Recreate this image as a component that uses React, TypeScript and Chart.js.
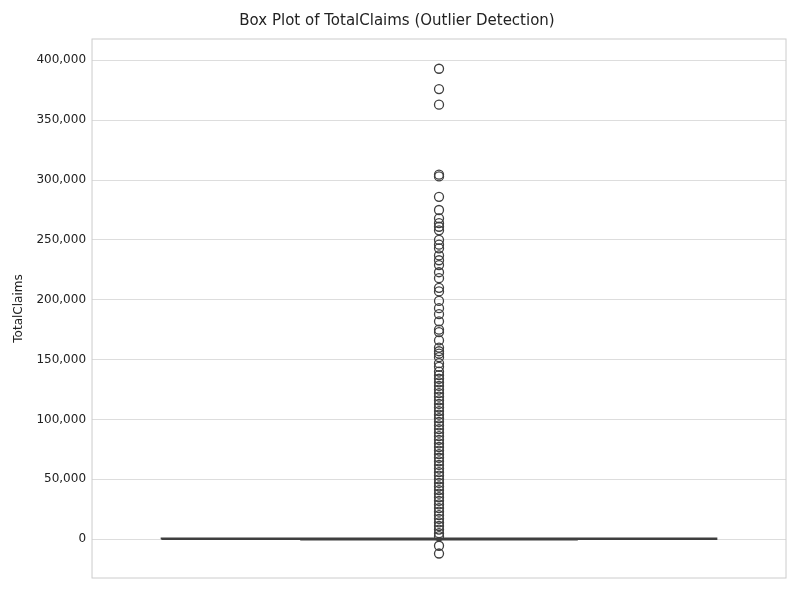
import React, { useRef, useEffect } from 'react';
import { Chart, registerables } from 'chart.js';

Chart.register(...registerables);

const yTicks = [0, 50000, 100000, 150000, 200000, 250000, 300000, 350000, 400000];
const boxStats = { q1: 0, median: 0, q3: 800 };
const outliers = [
  393000, 376000, 363000, 304500, 303000, 286000, 275000, 268000, 264000, 261000, 258000,
  250000, 246000, 243000, 237000, 233000, 229000, 223000, 218000, 210000, 207000, 199000,
  193000, 188000, 182000, 175000, 173000, 166000, 160000, 157000, 155000, 152000, 147000,
  144000, 140000, 137000, 134000, 131000, 128000, 125000, 122000, 119000, 116000, 113000,
  110000, 107000, 104000, 101000, 98000, 95000, 92000, 89000, 86000, 83000, 80000, 77000,
  74000, 71000, 68000, 65000, 62000, 59000, 56000, 53000, 50000, 47000, 44000, 41000,
  38000, 35000, 32000, 29000, 26000, 23000, 20000, 17000, 14000, 11000, 8000, 5000, 2500,
  -5500, -12000,
];

const frame = {
  id: 'frame',
  afterDraw(chart: Chart) {
    const { ctx, chartArea: a } = chart;
    ctx.save();
    ctx.strokeStyle = '#cccccc';
    ctx.lineWidth = 1;
    ctx.strokeRect(a.left, a.top, a.right - a.left, a.bottom - a.top);
    ctx.restore();
  },
};

export default function App() {
  const ref = useRef<HTMLCanvasElement | null>(null);
  useEffect(() => {
    document.body.style.margin = '0';
    if (!ref.current) return;
    const edge = '#3f3f3f';
    const chart = new Chart(ref.current, {
      type: 'scatter',
      data: {
        datasets: [
          {
            type: 'line',
            data: [{ x: -0.4, y: boxStats.q1 }, { x: 0.4, y: boxStats.q1 }, { x: 0.4, y: boxStats.q3 }, { x: -0.4, y: boxStats.q3 }, { x: -0.4, y: boxStats.q1 }],
            borderColor: edge,
            backgroundColor: 'rgba(0,0,0,0)',
            borderWidth: 1.5,
            pointRadius: 0,
          },
          {
            type: 'line',
            data: [{ x: -0.2, y: boxStats.median }, { x: 0.2, y: boxStats.median }],
            borderColor: edge,
            borderWidth: 2.5,
            pointRadius: 0,
          },
          {
            data: outliers.map((y) => ({ x: 0, y })),
            pointRadius: 4.5,
            borderColor: edge,
            borderWidth: 1.3,
            backgroundColor: 'rgba(0,0,0,0)',
          },
        ],
      },
      options: {
        animation: false,
        responsive: false,
        layout: { padding: { left: 8, right: 14, top: 0, bottom: 14 } },
        plugins: {
          legend: { display: false },
          tooltip: { enabled: false },
          title: {
            display: true,
            text: 'Box Plot of TotalClaims (Outlier Detection)',
            color: '#222',
            font: { family: 'DejaVu Sans', size: 15, weight: 'normal' },
            padding: { top: 12, bottom: 9 },
          },
        },
        scales: {
          x: {
            type: 'linear',
            min: -0.5,
            max: 0.5,
            ticks: { display: false },
            grid: { display: false },
            border: { display: false },
          },
          y: {
            min: -32450,
            max: 417850,
            afterBuildTicks: (axis: any) => {
              axis.ticks = yTicks.map((value) => ({ value }));
            },
            ticks: {
              color: '#222',
              font: { family: 'DejaVu Sans', size: 12 },
              padding: 6,
            },
            grid: { color: '#dddddd', drawTicks: false },
            border: { display: false },
            title: {
              display: true,
              text: 'TotalClaims',
              color: '#222',
              font: { family: 'DejaVu Sans', size: 12 },
            },
          },
        },
      },
      plugins: [frame],
    });
    return () => chart.destroy();
  }, []);
  return <canvas ref={ref} width={800} height={600} />;
}
